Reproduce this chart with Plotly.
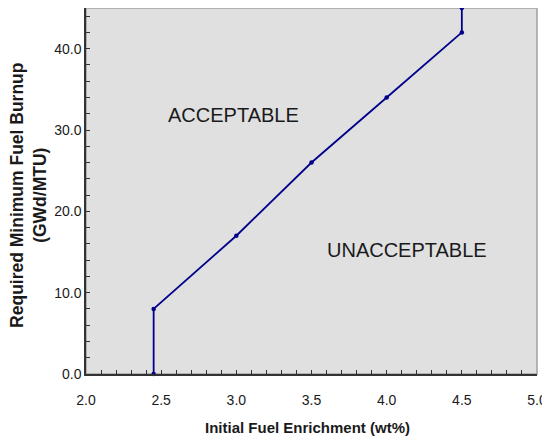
import plotly.graph_objects as go

enrichment = [2.45, 2.45, 3.0, 3.5, 4.0, 4.5, 4.5]
burnup = [0.0, 8.0, 17.0, 26.0, 34.0, 42.0, 45.0]
x_ticks = [2.0, 2.5, 3.0, 3.5, 4.0, 4.5, 5.0]
y_ticks = [0.0, 10.0, 20.0, 30.0, 40.0]

fig = go.Figure()
fig.add_trace(go.Scatter(
    x=enrichment, y=burnup, mode="lines+markers",
    line=dict(color="#00008B", width=1.8),
    marker=dict(color="#00008B", size=4.5),
    showlegend=False, cliponaxis=False,
))

reg = "Liberation Sans, Arial, sans-serif"
ink = "#1a1a1a"

fig.update_layout(
    width=542, height=431,
    margin=dict(l=78, r=13, t=0, b=65),
    paper_bgcolor="white", plot_bgcolor="#e0e0e0",
    font=dict(size=14, family=reg, color=ink),
    xaxis=dict(
        range=[2.0, 5.0], tickvals=x_ticks, ticktext=[f"{v:.1f}" for v in x_ticks],
        ticks="inside", ticklen=4, tickcolor="#333", showgrid=False, zeroline=False,
        showline=True, linecolor="#333", linewidth=1.5, automargin=False,
        ticklabelstandoff=12,
        minor=dict(dtick=0.1, ticks="inside", ticklen=4, tickcolor="#333", showgrid=False),
        tickfont=dict(size=14, family=reg, color=ink),
    ),
    yaxis=dict(
        range=[0, 45], tickvals=y_ticks, ticktext=[f"{v:.1f}" for v in y_ticks],
        ticks="inside", ticklen=4, tickcolor="#333", showgrid=False, zeroline=False,
        showline=True, linecolor="#333", linewidth=1.5, automargin=False,
        minor=dict(dtick=2, ticks="inside", ticklen=4, tickcolor="#333", showgrid=False),
        tickfont=dict(size=14, family=reg, color=ink),
    ),
    shapes=[dict(type="rect", xref="paper", yref="paper", x0=0, y0=0, x1=1, y1=1,
                 line=dict(color="#a0a0a0", width=1.5), layer="below")],
    annotations=[
        dict(x=2.978, y=31.8, text="ACCEPTABLE", showarrow=False,
             font=dict(size=20, family=reg, color=ink)),
        dict(x=4.132, y=15.2, text="UNACCEPTABLE", showarrow=False,
             font=dict(size=20, family=reg, color=ink)),
        dict(xref="paper", yref="paper", x=0.491, y=-0.1475, yanchor="middle",
             text="<b>Initial Fuel Enrichment (wt%)</b>", showarrow=False,
             font=dict(size=15, family=reg, color=ink)),
        dict(xref="paper", yref="paper", x=-0.126, xanchor="center", y=0.487, textangle=-90,
             text="<b>Required Minimum Fuel Burnup<br>(GWd/MTU)</b>", showarrow=False,
             font=dict(size=17.5, family=reg, color=ink)),
    ],
)

fig.write_html("out.html")
